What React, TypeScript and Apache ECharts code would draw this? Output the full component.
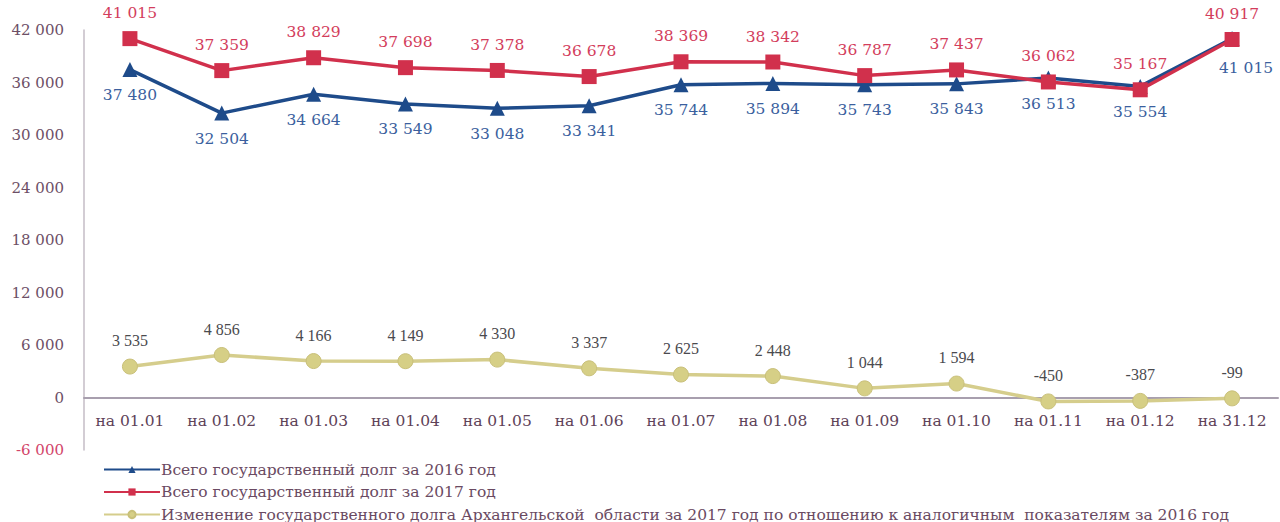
import React, { useEffect, useRef } from "react";
import * as echarts from "echarts";

const categories = ["на 01.01", "на 01.02", "на 01.03", "на 01.04", "на 01.05", "на 01.06", "на 01.07", "на 01.08", "на 01.09", "на 01.10", "на 01.11", "на 01.12", "на 31.12"];
const debt2016 = [37480, 32504, 34664, 33549, 33048, 33341, 35744, 35894, 35743, 35843, 36513, 35554, 41015];
const debt2017 = [41015, 37359, 38829, 37698, 37378, 36678, 38369, 38342, 36787, 37437, 36062, 35167, 40917];
const change = [3535, 4856, 4166, 4149, 4330, 3337, 2625, 2448, 1044, 1594, -450, -387, -99];
const seriesNames = [
  "Всего государственный долг за 2016 год",
  "Всего государственный долг за 2017 год",
  "Изменение государственного долга Архангельской  области за 2017 год по отношению к аналогичным  показателям за 2016 год",
];

const fmt = (v: number) => {
  const s = Math.abs(v).toString();
  const r = s.length > 3 ? s.slice(0, s.length - 3) + " " + s.slice(s.length - 3) : s;
  return (v < 0 ? "-" : "") + r;
};

const WIDE = "DejaVu Serif";
const TIMES = "Liberation Serif";
const ZERO_LINE = "#a89fae";
const NONE = "rgba(0,0,0,0)";

export default function App() {
  const ref = useRef<HTMLDivElement>(null);
  useEffect(() => {
    if (!ref.current) return;
    const chart = echarts.init(ref.current, undefined, { renderer: "svg" });
    chart.setOption({
      animation: false,
      backgroundColor: "#ffffff",
      grid: { left: 84, right: 2, top: 30, bottom: 72 },
      legend: {
        orient: "vertical",
        left: 98,
        top: 456,
        height: 70,
        itemGap: 5.5,
        itemWidth: 56,
        itemHeight: 9,
        textStyle: { fontFamily: WIDE, fontSize: 15.5, lineHeight: 17, color: "#6a4a62", padding: [0, 0, 0, -4] },
        data: seriesNames,
      },
      xAxis: {
        type: "category",
        data: categories,
        boundaryGap: true,
        offset: -52.5,
        axisLine: { show: true, onZero: false, lineStyle: { color: ZERO_LINE, width: 2 } },
        axisTick: { show: false },
        axisLabel: { fontFamily: WIDE, fontSize: 15.5, color: "#5e4258", margin: 15, interval: 0 },
      },
      yAxis: {
        type: "value",
        min: -6000,
        max: 42000,
        interval: 6000,
        axisLine: { show: true, lineStyle: { color: "#c4bcc6", width: 1.5 } },
        axisTick: { show: false },
        splitLine: {
          show: true,
          lineStyle: {
            width: 2,
            color: [NONE, ZERO_LINE, NONE, NONE, NONE, NONE, NONE, NONE, NONE],
          },
        },
        axisLabel: {
          fontFamily: WIDE,
          fontSize: 15,
          margin: 20,
          color: (v: number) => (v < 0 ? "#d2456a" : "#6d4f66"),
          formatter: (v: number) => fmt(v),
        },
      },
      series: [
        {
          name: seriesNames[0],
          type: "line",
          data: debt2016.map((v, i) =>
            i === debt2016.length - 1
              ? { value: v, label: { position: "bottom", offset: [14, 4] } }
              : v
          ),
          symbol: "triangle",
          symbolSize: 15,
          z: 3,
          lineStyle: { color: "#1e4b8a", width: 3.5 },
          itemStyle: { color: "#1e4b8a" },
          label: {
            show: true,
            position: "bottom",
            distance: 10,
            fontFamily: WIDE,
            fontSize: 15.5,
            color: "#3b5f9e",
            formatter: (p: any) => fmt(p.value),
          },
        },
        {
          name: seriesNames[1],
          type: "line",
          data: debt2017,
          symbol: "rect",
          symbolSize: 15,
          z: 4,
          lineStyle: { color: "#d1304c", width: 3.5 },
          itemStyle: { color: "#d1304c" },
          label: {
            show: true,
            position: "top",
            distance: 10,
            fontFamily: WIDE,
            fontSize: 15.5,
            color: "#d33d5c",
            formatter: (p: any) => fmt(p.value),
          },
        },
        {
          name: seriesNames[2],
          type: "line",
          data: change,
          symbol: "circle",
          symbolSize: 15,
          z: 2,
          lineStyle: { color: "#d5cd8c", width: 3.5 },
          itemStyle: { color: "#d6cf86", borderColor: "#c9c07a", borderWidth: 1 },
          label: {
            show: true,
            position: "top",
            distance: 10,
            fontFamily: TIMES,
            fontSize: 16,
            color: "#4a4a4e",
            formatter: (p: any) => fmt(p.value),
          },
        },
      ],
    });
    return () => chart.dispose();
  }, []);
  return (
    <div
      ref={ref}
      style={{ position: "fixed", left: 0, top: 0, width: 1280, height: 522, background: "#fff" }}
    />
  );
}
